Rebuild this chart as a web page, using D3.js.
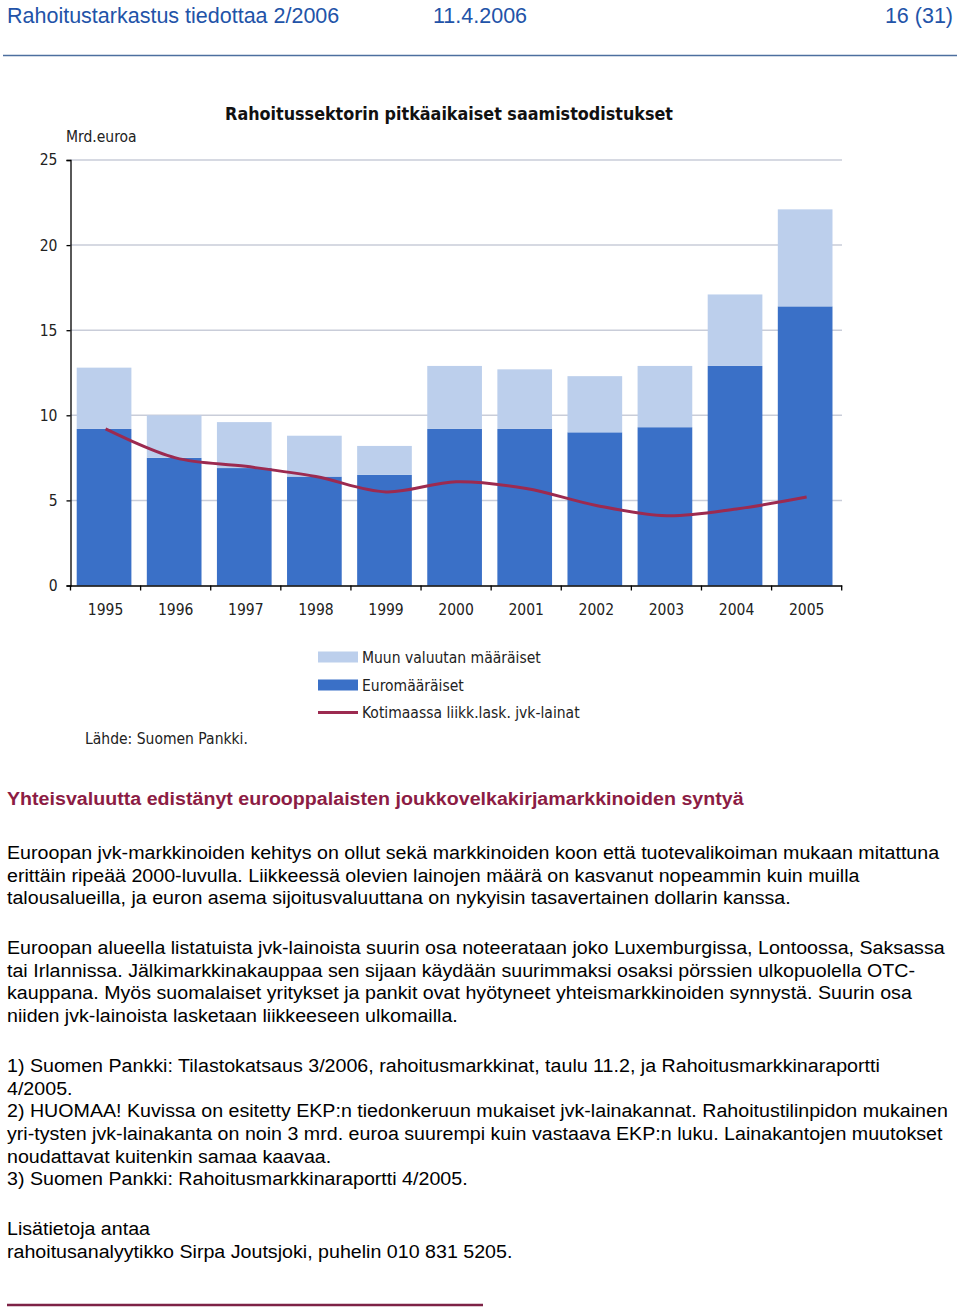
<!DOCTYPE html>
<html><head><meta charset="utf-8">
<script src="https://cdn.jsdelivr.net/npm/d3@7"></script>
<style>
html,body{margin:0;padding:0;background:#fff;}
svg{display:block;}
</style></head>
<body>
<svg id="page" width="960" height="1315"></svg>
<script>
// ---- data ----
const years = ["1995","1996","1997","1998","1999","2000","2001","2002","2003","2004","2005"];
const euroValues = [9.2, 7.5, 6.9, 6.4, 6.5, 9.2, 9.2, 9.0, 9.3, 12.9, 16.4];
const otherValues = [3.6, 2.5, 2.7, 2.4, 1.7, 3.7, 3.5, 3.3, 3.6, 4.2, 5.7];
const domesticValues = [9.2, 7.5, 7.0, 6.4, 5.5, 6.1, 5.7, 4.7, 4.1, 4.5, 5.2];
const yTicks = [0, 5, 10, 15, 20, 25];
const seriesNames = ["Muun valuutan määräiset", "Euromääräiset", "Kotimaassa liikk.lask. jvk-lainat"];
const chartTitle = "Rahoitussektorin pitkäaikaiset saamistodistukset";
const unitLabel = "Mrd.euroa";
const sourceLabel = "Lähde: Suomen Pankki.";
const headerLeft = "Rahoitustarkastus tiedottaa 2/2006";
const headerMid = "11.4.2006";
const headerRight = "16 (31)";
const heading = "Yhteisvaluutta edistänyt eurooppalaisten joukkovelkakirjamarkkinoiden syntyä";
const bodyBlocks = [
  ["Euroopan jvk-markkinoiden kehitys on ollut sekä markkinoiden koon että tuotevalikoiman mukaan mitattuna",
   "erittäin ripeää 2000-luvulla. Liikkeessä olevien lainojen määrä on kasvanut nopeammin kuin muilla",
   "talousalueilla, ja euron asema sijoitusvaluuttana on nykyisin tasavertainen dollarin kanssa."],
  ["Euroopan alueella listatuista jvk-lainoista suurin osa noteerataan joko Luxemburgissa, Lontoossa, Saksassa",
   "tai Irlannissa. Jälkimarkkinakauppaa sen sijaan käydään suurimmaksi osaksi pörssien ulkopuolella OTC-",
   "kauppana. Myös suomalaiset yritykset ja pankit ovat hyötyneet yhteismarkkinoiden synnystä. Suurin osa",
   "niiden jvk-lainoista lasketaan liikkeeseen ulkomailla."],
  ["1) Suomen Pankki: Tilastokatsaus 3/2006, rahoitusmarkkinat, taulu 11.2, ja Rahoitusmarkkinaraportti",
   "4/2005.",
   "2) HUOMAA! Kuvissa on esitetty EKP:n tiedonkeruun mukaiset jvk-lainakannat. Rahoitustilinpidon mukainen",
   "yri-tysten jvk-lainakanta on noin 3 mrd. euroa suurempi kuin vastaava EKP:n luku. Lainakantojen muutokset",
   "noudattavat kuitenkin samaa kaavaa.",
   "3) Suomen Pankki: Rahoitusmarkkinaraportti 4/2005."],
  ["Lisätietoja antaa",
   "rahoitusanalyytikko Sirpa Joutsjoki, puhelin 010 831 5205."]
];

// ---- styles ----
const cLight = "#bccfec", cDark = "#3a70c7", cLine = "#9c2a50";
const cHeader = "#2253a8", cHeading = "#8c1c44";
const chartFont = "'DejaVu Sans Condensed','DejaVu Sans',sans-serif";
const textFont = "'Liberation Sans',Arial,sans-serif";
const chartFs = 15.5;

const svg = d3.select("#page");

// header
svg.append("text").attr("x", 7).attr("y", 22.5).attr("font-family", textFont).attr("font-size", 21.5)
  .attr("fill", cHeader).text(headerLeft);
svg.append("text").attr("x", 433).attr("y", 22.5).attr("font-family", textFont).attr("font-size", 21.5)
  .attr("fill", cHeader).text(headerMid);
svg.append("text").attr("x", 953).attr("y", 22.5).attr("text-anchor", "end").attr("font-family", textFont).attr("font-size", 21.5)
  .attr("fill", cHeader).text(headerRight);
svg.append("line").attr("x1", 3).attr("x2", 957).attr("y1", 55.5).attr("y2", 55.5)
  .attr("stroke", "#4d6f9f").attr("stroke-width", 1.5);

// ---- chart ----
const x = d3.scaleBand().domain(years).range([70.5, 841.7]).paddingInner(0.22).paddingOuter(0.11);
const y = d3.scaleLinear().domain([0, 25]).range([585.5, 160]);

const g = svg.append("g");

// gridlines
g.append("g").selectAll("line").data(yTicks.filter(d => d > 0)).join("line")
  .attr("x1", 70).attr("x2", 842).attr("y1", d => y(d)).attr("y2", d => y(d))
  .attr("stroke", "#c9cdd9").attr("stroke-width", 1.5);

// stacked bars
const stackData = years.map((yr, i) => ({year: yr, euro: euroValues[i], other: otherValues[i]}));
const stack = d3.stack().keys(["euro", "other"])(stackData);
const colors = {euro: cDark, other: cLight};
g.append("g").selectAll("g").data(stack).join("g").attr("fill", s => colors[s.key])
  .selectAll("rect").data(s => s).join("rect")
  .attr("x", d => x(d.data.year) - 1.5)
  .attr("width", x.bandwidth())
  .attr("y", d => y(d[1]))
  .attr("height", d => y(d[0]) - y(d[1]));

// line
const line = d3.line()
  .x((d, i) => x(years[i]) + x.bandwidth() / 2)
  .y(d => y(d))
  .curve(d3.curveCatmullRom.alpha(0.5));
g.append("path").datum(domesticValues).attr("d", line)
  .attr("fill", "none").attr("stroke", cLine).attr("stroke-width", 3).attr("stroke-linejoin", "round");

// y axis
const yAxis = d3.axisLeft(y).tickValues(yTicks).tickSize(4).tickPadding(9).tickFormat(d3.format("d"));
const ya = g.append("g").attr("transform", "translate(70.5,0)").call(yAxis);
ya.select(".domain").attr("stroke", "#000").attr("stroke-width", 1.3);
ya.selectAll(".tick line").attr("stroke", "#000").attr("stroke-width", 1.3);
ya.selectAll(".tick text").attr("font-family", chartFont).attr("font-size", chartFs).attr("fill", "#222");

// x axis
const xAxis = d3.axisBottom(x).tickSize(0).tickPadding(18);
const xa = g.append("g").attr("transform", "translate(0,585.5)").call(xAxis);
xa.select(".domain").attr("stroke", "#000").attr("stroke-width", 1.3);
xa.selectAll(".tick text").attr("font-family", chartFont).attr("font-size", chartFs).attr("fill", "#222");
// category separators
const step = x.step();
const bounds = d3.range(years.length + 1).map(i => x.range()[0] + i * step);
xa.append("g").selectAll("line").data(bounds).join("line")
  .attr("x1", d => d).attr("x2", d => d).attr("y1", 0).attr("y2", 5)
  .attr("stroke", "#000").attr("stroke-width", 1.3);

// title & unit
svg.append("text").attr("x", 449).attr("y", 120).attr("text-anchor", "middle")
  .attr("font-family", chartFont).attr("font-weight", "bold").attr("font-size", 17.8).attr("fill", "#111")
  .text(chartTitle);
svg.append("text").attr("x", 66).attr("y", 142).attr("font-family", chartFont).attr("font-size", chartFs)
  .attr("fill", "#222").text(unitLabel);

// legend
const leg = svg.append("g").attr("font-family", chartFont).attr("font-size", chartFs).attr("fill", "#222");
const legY = [657, 685, 712.5];
leg.append("rect").attr("x", 318).attr("y", legY[0] - 5.5).attr("width", 40).attr("height", 11).attr("fill", cLight);
leg.append("rect").attr("x", 318).attr("y", legY[1] - 5.5).attr("width", 40).attr("height", 11).attr("fill", cDark);
leg.append("line").attr("x1", 318).attr("x2", 358).attr("y1", legY[2]).attr("y2", legY[2])
  .attr("stroke", cLine).attr("stroke-width", 3);
seriesNames.forEach((n, i) => {
  leg.append("text").attr("x", 362).attr("y", legY[i]).attr("dy", "0.36em").text(n);
});
svg.append("text").attr("x", 85).attr("y", 738).attr("dy", "0.36em").attr("font-family", chartFont)
  .attr("font-size", chartFs).attr("fill", "#222").text(sourceLabel);

// ---- body text ----
const tg = svg.append("g").attr("font-family", textFont).attr("font-size", 19).attr("fill", "#000");
const hd = tg.append("text").attr("x", 7).attr("y", 805).attr("font-weight", "bold").attr("fill", cHeading).text(heading);
const blockStarts = [859, 954, 1072, 1235];
const lh = 22.7;
const lineNodes = [];
bodyBlocks.forEach((blk, b) => {
  blk.forEach((t, i) => {
    const n = tg.append("text").attr("x", 7).attr("y", blockStarts[b] + i * lh).text(t);
    lineNodes.push(n);
  });
});
// horizontal compression to mimic the narrow source typeface
const natural = lineNodes[0].node().getComputedTextLength();
const sx = 933 / natural;
tg.selectAll("text").attr("transform", function() {
  const xx = +d3.select(this).attr("x");
  return `translate(${xx * (1 - sx)},0) scale(${sx},1)`;
});

// bottom rule
svg.append("line").attr("x1", 7).attr("x2", 483).attr("y1", 1305).attr("y2", 1305)
  .attr("stroke", "#7d2246").attr("stroke-width", 2.5);
</script>
</body></html>
